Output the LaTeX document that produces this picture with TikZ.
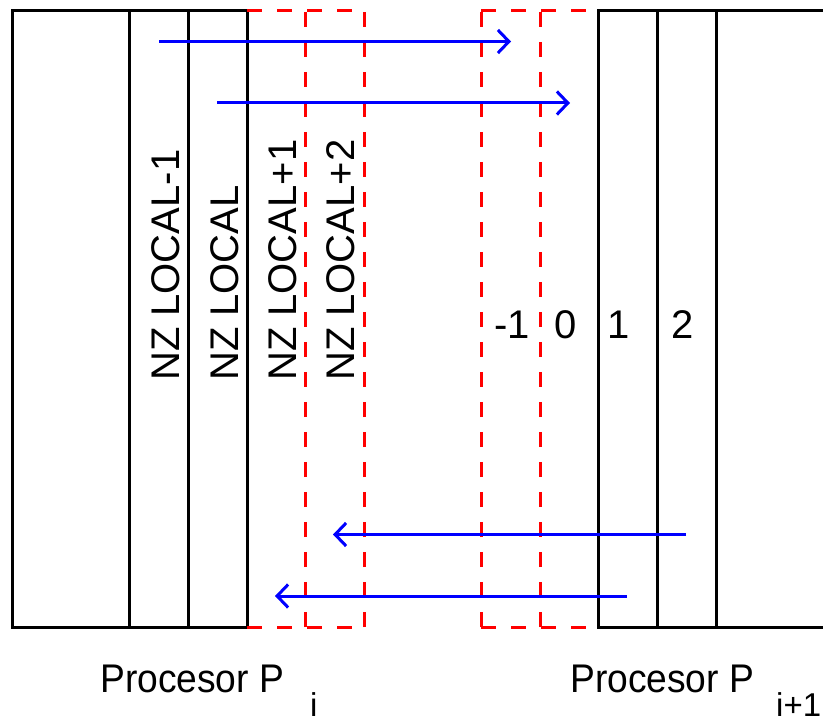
\documentclass[tikz,border=0pt]{standalone}
\usepackage{fontspec}
\setmainfont{Liberation Sans}
\newfontfamily\procfont[FakeStretch=0.93]{Liberation Sans}
\usepackage{tikz}
\usetikzlibrary{positioning, arrows.meta}
\definecolor{haloblue}{RGB}{0,0,255}
\definecolor{ghostred}{RGB}{255,0,0}
\tikzset{
  cell/.style={draw=black, line width=3pt},
  ghost/.style={draw=ghostred, line width=3pt, dash pattern=on 15pt off 15pt},
  halo/.style={-{Straight Barb[length=11pt, width=23pt]}, line width=3pt, draw=haloblue},
  colname/.style={rotate=90, anchor=base west, inner sep=0pt, font=\fontsize{40}{48}\selectfont},
  idx/.style={anchor=base, inner sep=0pt, font=\fontsize{40}{48}\selectfont},
  proc/.style={anchor=base west, inner sep=0pt, font=\procfont\fontsize{40}{48}\selectfont},
  procsub/.style={anchor=base west, inner sep=0pt, font=\fontsize{33}{40}\selectfont},
}

\begin{document}
\begin{tikzpicture}[x=1pt, y=-1pt]
  \useasboundingbox (0,0) rectangle (823,722);

  % Processor P_i: local columns
  \draw[cell] (247,11) -- (12,11) -- (12,627) -- (247,627);
  \foreach \x in {129,188,247}
    \draw[cell] (\x,11) -- (\x,627);
  % ghost columns of P_i
  \draw[ghost] (247,11) -- (364,11);
  \draw[ghost] (247,627) -- (364,627);
  \foreach \x in {305,364}
    \draw[ghost] (\x,627) -- (\x,11);

  % Processor P_i+1: local columns
  \draw[cell] (823,11) -- (598,11) -- (598,627) -- (823,627);
  \foreach \x in {657,716}
    \draw[cell] (\x,11) -- (\x,627);
  % ghost columns of P_i+1
  \draw[ghost] (481,11) -- (598,11);
  \draw[ghost] (481,627) -- (598,627);
  \foreach \x in {481,540}
    \draw[ghost] (\x,627) -- (\x,11);

  % column names
  \node[colname] (nzm1) at (179,381) {NZ LOCAL-1};
  \node[colname] (nz)   at (238,381) {NZ LOCAL};
  \node[colname] (nzp1) at (296,381) {NZ LOCAL+1};
  \node[colname] (nzp2) at (354,381) {NZ LOCAL+2};

  \node[idx] (km1) at (512,339) {-1};
  \node[idx] (k0)  at (565.5,339) {0};
  \node[idx] (k1)  at (619,339) {1};
  \node[idx] (k2)  at (683,339) {2};

  % exchange of boundary columns
  \coordinate (a1s) at (159,41.5);  \coordinate (a1e) at (511,41.5);
  \coordinate (a2s) at (217,103);   \coordinate (a2e) at (570,103);
  \coordinate (b1s) at (686,534.5); \coordinate (b1e) at (333,534.5);
  \coordinate (b2s) at (627,596);   \coordinate (b2e) at (275,596);
  \draw[halo] (a1s) -- (a1e);
  \draw[halo] (a2s) -- (a2e);
  \draw[halo] (b1s) -- (b1e);
  \draw[halo] (b2s) -- (b2e);

  % processor labels
  \node[proc] (pi) at (100,692) {Procesor P};
  \node[procsub] (pisub) at (310,716) {i};
  \node[proc] (pj) at (570,692) {Procesor P};
  \node[procsub] (pjsub) at (776,716) {i+1};
\end{tikzpicture}
\end{document}
